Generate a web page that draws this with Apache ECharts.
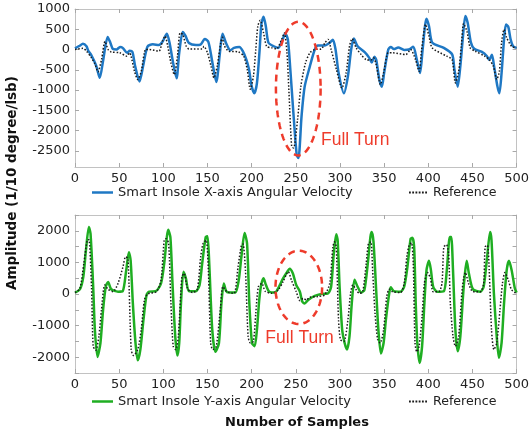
<!DOCTYPE html>
<html><head><meta charset="utf-8">
<script src="https://cdn.jsdelivr.net/npm/echarts@6/dist/echarts.min.js"></script>
<style>html,body{margin:0;padding:0;background:#fff}#c{width:532px;height:433px}</style>
</head><body><div id="c"></div>
<script>
// ---------- data (sample index, amplitude) ----------
const insoleX = [[0,30],[5,90],[9,140],[13,80],[15,-30],[18,-120],[24,-400],[28,-700],[32,-250],[37,310],[40,170],[43,10],[47,0],[51,60],[54,40],[59,-80],[62,-30],[65,-60],[68,-400],[73,-790],[77,-420],[82,70],[88,130],[95,110],[99,190],[104,390],[107,170],[111,-320],[115,-710],[118,-80],[122,430],[125,340],[129,160],[137,110],[142,120],[147,260],[151,190],[155,-250],[160,-800],[164,-100],[167,390],[171,160],[176,-20],[180,40],[186,60],[190,-40],[194,-250],[197,-490],[200,-900],[203,-1080],[206,-830],[209,-20],[211,620],[213.5,810],[216,580],[219,170],[225,80],[230,40],[235,240],[238,400],[241,250],[243.5,-400],[247,-1480],[251,-2600],[253,-2680],[256.5,-1650],[260,-920],[266,-410],[271.5,0],[275,100],[283,100],[288,160],[292,240],[295,0],[298.5,-580],[304.5,-1080],[309,-660],[312.7,0],[315.7,270],[320,80],[328,-65],[333,-200],[336,-320],[339,-180],[341,-250],[344.6,-740],[347.5,-920],[350,-580],[354.7,0],[357.6,65],[361,10],[366,50],[372.7,-10],[378,0],[383,70],[387,-250],[390.7,-580],[393.6,0],[398,760],[400.8,580],[404.5,170],[417.6,40],[427,-120],[429.6,-490],[433.3,-920],[436.3,-410],[439.3,330],[442,830],[444.6,660],[448.3,170],[452,20],[460.7,-60],[466.3,-160],[469,-250],[472,-130],[474.5,-410],[478.3,-910],[480.5,-1080],[483,-580],[485.8,250],[488,620],[490.6,560],[493.2,250],[496,80],[500,40]];
const referenceX = [[0,0],[9,30],[13,-40],[18.5,-200],[22.5,-350],[26,-550],[30,-250],[34,200],[37.5,0],[41,-60],[50.6,-80],[58.8,-165],[61.7,-80],[63.5,-165],[67.4,-540],[71,-740],[75,-540],[80,0],[84,0],[95,-40],[99,205],[102,330],[105,80],[108.6,-330],[112.4,-620],[116,-165],[119,410],[122,370],[126,80],[129,15],[144,15],[146,80],[150,-80],[154,-410],[157.3,-700],[161,-410],[165,165],[167,300],[168.5,120],[174,-40],[185,-60],[191,-165],[195,-495],[198.5,-980],[202,-660],[204.7,0],[207,577],[209.7,720],[213.5,410],[217,80],[223,40],[228,15],[234,250],[237,410],[240,-80],[242.3,-1070],[245.3,-2390],[247.5,-2430],[252,-1730],[255.7,-910],[261,-330],[266,-80],[271.5,0],[279,15],[283,165],[286.5,250],[290,0],[296,-495],[302.2,-950],[307,-580],[310.8,80],[313.8,265],[318.4,40],[324,-125],[329.7,-250],[335,-260],[338,-205],[341,-370],[345.8,-865],[349.4,-580],[354.7,-80],[359.5,-80],[374.5,-125],[380,0],[385.6,-250],[389.6,-540],[392.5,0],[397,620],[400.8,330],[404.5,40],[421,-165],[427,-250],[430.7,-825],[434.4,-540],[437.4,80],[440,640],[443.8,450],[447.5,40],[453,-40],[464,-165],[469,-250],[473.7,-410],[477.5,-740],[480.5,-540],[483,165],[485.8,495],[488.8,290],[494.4,80],[500,40]];
const insoleY = [[0,40],[5.6,150],[9.4,545],[12.4,1385],[15.7,2120],[17.6,1900],[20.6,230],[22.5,-1130],[25.5,-1990],[28.8,-1550],[31.8,-500],[34.8,230],[37.5,380],[41,150],[48.7,75],[54,90],[58,755],[61,1320],[63,1060],[65.5,-290],[68.5,-1550],[71,-2100],[74,-1760],[77.5,-820],[81,-30],[84,75],[91.5,90],[97.4,335],[101,965],[105.6,2030],[108,1800],[110.4,335],[113.5,-1340],[116,-1950],[118,-1550],[120,-290],[122.8,705],[125.5,500],[129,90],[136.7,90],[141,280],[144,965],[148,1805],[150,1830],[152,965],[155.4,-1130],[159,-1830],[163,-1550],[165.8,-290],[168.5,335],[171,100],[174,44],[181.5,44],[185.4,440],[188.4,1175],[192,1930],[194.8,1600],[197.4,-290],[200.4,-1550],[203.4,-1655],[206,-1130],[208.6,-190],[210.8,285],[213.5,500],[216,300],[219.8,75],[226.5,44],[230,180],[235.6,495],[240.4,705],[243,800],[246.7,650],[250.5,285],[254.6,75],[257.3,-240],[260,-300],[264,-190],[271.5,-60],[279,0],[286.5,20],[290,230],[293,1280],[295.8,1890],[297.4,1700],[299.6,230],[302.5,-1130],[305.3,-1550],[308,-1760],[310.8,-1340],[313.4,-290],[316.5,450],[320,230],[324,44],[327.7,130],[331.5,965],[334.5,1805],[336,1960],[338,1640],[340.8,230],[343.5,-1130],[346.4,-1880],[349.4,-1550],[352,-820],[355.8,20],[357.6,210],[361,90],[368.5,75],[372.7,230],[376.4,860],[380,1750],[382,1780],[384,1490],[385.8,-290],[387.6,-1550],[390.2,-2180],[393,-1650],[395.6,-290],[398,755],[400.8,1050],[403,755],[405.6,230],[410,75],[417.6,90],[421,755],[424.4,1805],[426,1805],[428,755],[430.7,-1130],[433.3,-1810],[436.3,-1340],[439.3,-80],[441,500],[443.5,1050],[446,650],[450.6,150],[459,75],[462.7,230],[466.3,1070],[470,1960],[471.6,1700],[474.3,20],[477.5,-1340],[480,-2020],[483,-1550],[485.8,-290],[488.8,755],[491.4,1050],[494.4,755],[498,180],[500,44]];
const referenceY = [[0,40],[5.6,180],[10,965],[13.8,1700],[15.7,1720],[18.7,230],[20.6,-1655],[23.6,-1780],[27,-1340],[30,-500],[33.7,285],[37.5,150],[43,75],[48.7,335],[54.3,860],[57.3,1175],[60,1120],[63.6,-1760],[66.3,-1950],[71,-1760],[75,-1130],[78.6,-190],[82.4,0],[92.3,75],[97.4,440],[101,1700],[103,1750],[106,1600],[108.6,-290],[111.2,-1655],[114,-1760],[117,-1340],[121,545],[123.6,650],[127.4,180],[133,44],[138.5,150],[142.3,1175],[145,1590],[148.5,1700],[151,755],[153.6,-1550],[156,-1760],[160,-1655],[164.8,-400],[167.4,230],[172,75],[180,20],[184.6,860],[188.4,1540],[190.2,1580],[193,755],[196,-1340],[198.5,-1550],[202,-1500],[204.7,-610],[207.6,230],[211.6,335],[215.3,90],[222.8,20],[230,130],[235.6,390],[239.7,650],[241.5,705],[245,440],[250.5,75],[254.6,-210],[258.4,-140],[262,-190],[266,-100],[275,-80],[282.6,-30],[288.4,335],[292,1490],[293.8,1650],[295.8,1490],[298.4,-820],[300.6,-1445],[304.5,-1500],[309,-820],[312,20],[314.6,285],[318.4,130],[322,20],[325.8,75],[329.7,965],[332.2,1590],[335,1650],[337,755],[339.7,-610],[342.7,-1445],[345.6,-1550],[349.4,-1130],[353,-80],[355.8,150],[359.5,75],[368.5,44],[372.7,335],[375.7,1175],[378.3,1540],[381,1620],[383,965],[385,-1550],[387,-1830],[389.6,-1655],[393,-710],[395.6,335],[399,680],[402.5,495],[405.6,75],[412,75],[415.5,335],[417.6,1490],[420.6,1560],[423,1280],[425,-290],[428,-1340],[430.7,-1655],[434.4,-1340],[438,20],[440,495],[442,680],[445.6,335],[450.6,75],[459,75],[462.7,335],[464.4,1490],[467,1540],[469,755],[471.6,-1130],[474.3,-1760],[477.5,-1550],[481.2,-500],[484,335],[486.8,680],[490.6,440],[494.4,130],[500,20]];
const topYTicks = [-2500,-2000,-1500,-1000,-500,0,500,1000];
const bottomYLabels = [-2000,-1000,0,1000,2000];
const nameX = 'Smart Insole X-axis Angular Velocity';
const nameY = 'Smart Insole Y-axis Angular Velocity';
const nameRef = 'Reference';
const yTitle = 'Amplitude (1/10 degree/lsb)';
const xTitle = 'Number of Samples';
const annot = 'Full Turn';

// ---------- styling ----------
const FF = 'DejaVu Sans';
const AX = '#c2c2c2', TK = '#a8a8a8', TXT = '#222';
const BLUE = '#1f78c4', GREEN = '#1fae22', RED = '#ee3b2b', DOT = '#1a1a1a';
const plain = v => String(v);

function xAx(grid, pos) {
  return {type:'value', gridIndex:grid, position:pos, min:0, max:500, interval:50,
    axisLine:{show:true, onZero:false, lineStyle:{color:AX, width:1}},
    axisTick:{show:true, inside:true, length:4, lineStyle:{color:TK}},
    axisLabel:{show:pos==='bottom', margin:5, fontFamily:FF, fontSize:13, color:TXT, formatter:plain},
    splitLine:{show:false}};
}
function yAxTop(pos) {
  return {type:'value', gridIndex:0, position:pos, min:-2900, max:1000,
    axisLine:{show:true, onZero:false, lineStyle:{color:AX}},
    axisTick:{show:true, inside:true, length:4, lineStyle:{color:TK}, customValues:topYTicks},
    axisLabel:{show:pos==='left', margin:5, fontFamily:FF, fontSize:13, color:TXT, customValues:topYTicks, formatter:plain},
    splitLine:{show:false}};
}
function yAxBot(pos) {
  return {type:'value', gridIndex:1, position:pos, min:-2500, max:2500, interval:500,
    axisLine:{show:true, onZero:false, lineStyle:{color:AX}},
    axisTick:{show:true, inside:true, length:4, lineStyle:{color:TK}},
    axisLabel:{show:pos==='left', margin:5, fontFamily:FF, fontSize:13, color:TXT, customValues:bottomYLabels, formatter:plain},
    splitLine:{show:false}};
}
const dotIcon = 'path://M0,0h2v2h-2zM3.6,0h2v2h-2zM7.2,0h2v2h-2zM10.8,0h2v2h-2zM14.4,0h2v2h-2zM18,0h2v2h-2z';
const lg = (left, top, name, icon, w, h, fs) => ({left, top, padding:0, itemWidth:w, itemHeight:h, itemGap:8,
  icon, selectedMode:false, data:[name], textStyle:{fontFamily:FF, fontSize:fs, color:TXT}});

const chart = echarts.init(document.getElementById('c'), null, {renderer:'canvas'});
const option = {
  animation:false,
  backgroundColor:'#fff',
  grid:[{left:75, top:9, width:445, height:158}, {left:75, top:215, width:445, height:158}],
  xAxis:[xAx(0,'bottom'), xAx(0,'top'), xAx(1,'bottom'), xAx(1,'top')],
  yAxis:[yAxTop('left'), yAxTop('right'), yAxBot('left'), yAxBot('right')],
  legend:[lg(92,186,nameX,'rect',21,2.5,13), lg(409,186,nameRef,dotIcon,20,1.8,12.6),
          lg(92,395,nameY,'rect',21,2.5,13), lg(409,395,nameRef,dotIcon,20,1.8,12.6)],
  series:[
    {type:'line', name:nameX, xAxisIndex:0, yAxisIndex:0, data:insoleX, symbol:'none', smooth:0.25,
     lineStyle:{color:BLUE, width:2.5}, itemStyle:{color:BLUE}},
    {type:'line', name:nameRef, xAxisIndex:0, yAxisIndex:0, data:referenceX, symbol:'none', smooth:0.25,
     lineStyle:{color:DOT, width:1.5, type:[1.5,1.8]}, itemStyle:{color:DOT}},
    {type:'line', name:nameY, xAxisIndex:2, yAxisIndex:2, data:insoleY, symbol:'none', smooth:0.25,
     lineStyle:{color:GREEN, width:2.5}, itemStyle:{color:GREEN}},
    {type:'line', name:nameRef, xAxisIndex:2, yAxisIndex:2, data:referenceY, symbol:'none', smooth:0.25,
     lineStyle:{color:DOT, width:1.5, type:[1.5,1.8]}, itemStyle:{color:DOT}}
  ]
};
chart.setOption(option);

// ---------- annotations anchored in data coordinates ----------
function ellipse(ax, c, r) {
  const p0 = chart.convertToPixel({xAxisIndex:ax, yAxisIndex:ax}, c);
  const p1 = chart.convertToPixel({xAxisIndex:ax, yAxisIndex:ax}, [c[0]+r[0], c[1]+r[1]]);
  const rx = Math.abs(p1[0]-p0[0]), ry = Math.abs(p1[1]-p0[1]);
  const pts = [];
  for (let i = 0; i < 96; i++) { const a = i/96*2*Math.PI; pts.push([p0[0]+rx*Math.cos(a), p0[1]+ry*Math.sin(a)]); }
  return {type:'polygon', shape:{points:pts}, style:{fill:'none', stroke:RED, lineWidth:2.5, lineDash:[7,5]}, z:100};
}
function label(ax, at) {
  const p = chart.convertToPixel({xAxisIndex:ax, yAxisIndex:ax}, at);
  return {type:'text', x:p[0], y:p[1], style:{text:annot, fill:RED, font:'17.5px "Liberation Sans"', textAlign:'left', textVerticalAlign:'middle'}, z:100};
}
chart.setOption({graphic:[
  ellipse(0, [252.8, -965], [25.3, 1650]),
  label(0, [278.5, -2250]),
  ellipse(2, [253.4, 210], [26.4, 1160]),
  label(2, [215.5, -1390]),
  {type:'text', x:12, y:183, rotation:Math.PI/2, style:{text:yTitle, fill:'#111', font:'bold 13.5px "DejaVu Sans"', textAlign:'center', textVerticalAlign:'middle'}},
  {type:'text', x:297, y:423, style:{text:xTitle, fill:'#111', font:'bold 13px "DejaVu Sans"', textAlign:'center', textVerticalAlign:'middle'}}
]});
</script></body></html>
